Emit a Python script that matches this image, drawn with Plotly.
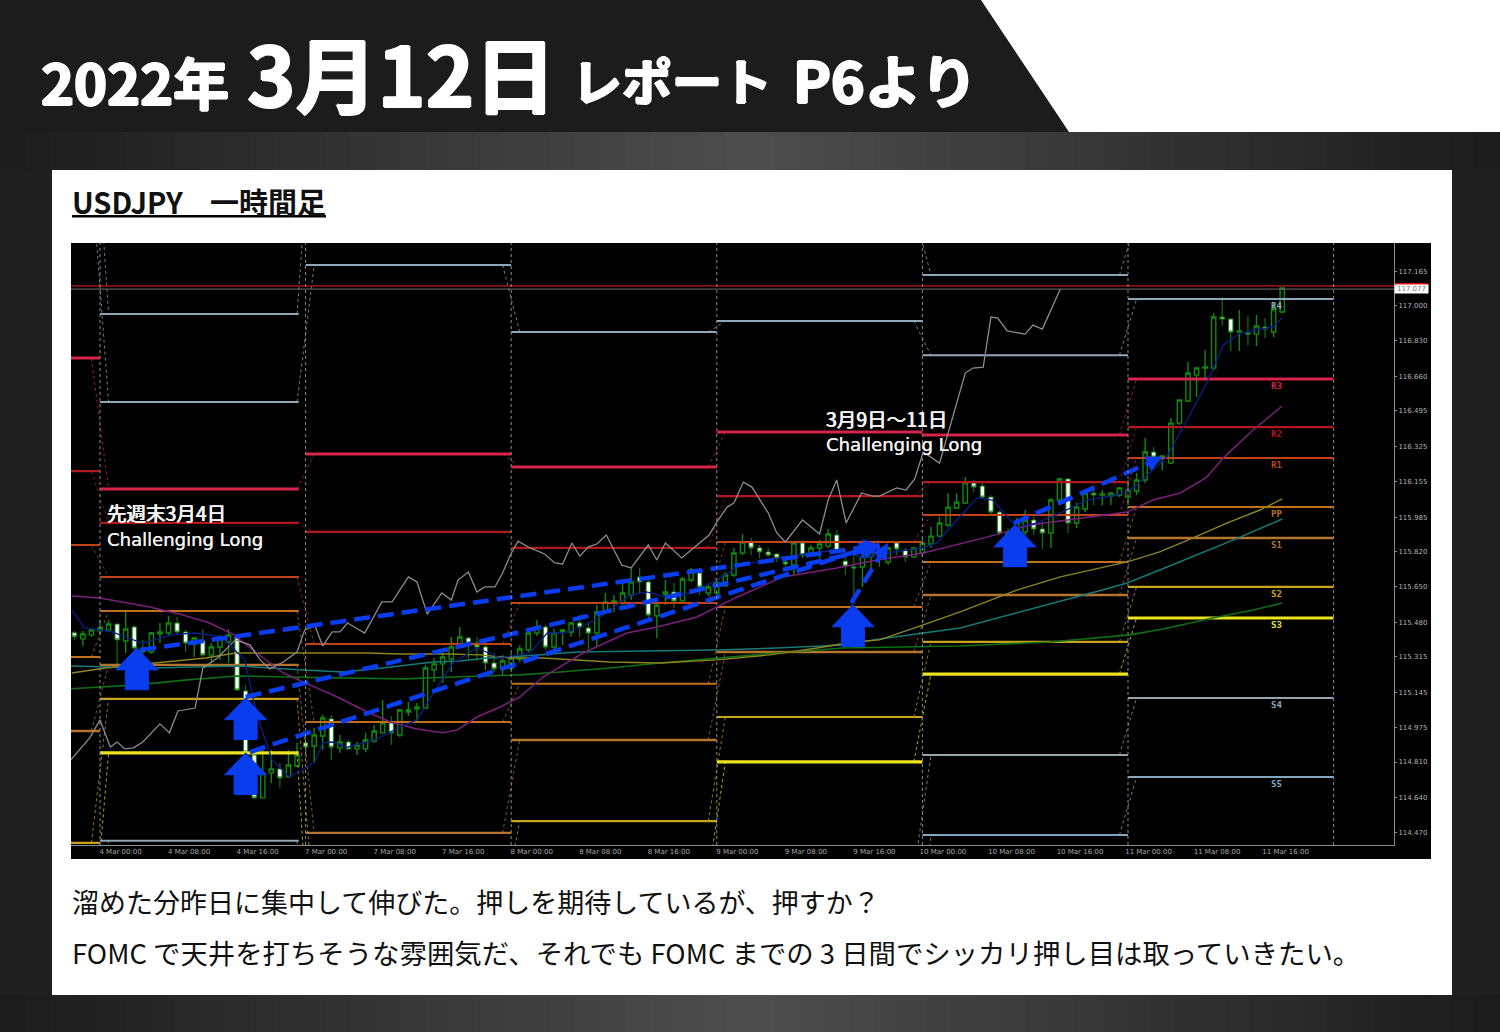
import math
import plotly.graph_objects as go

W, H = 1500, 1032
JP = "Noto Sans CJK JP"

# hourly bars, x is hours since 4 Mar 00:00 (weekend removed)
hours = list(range(-3, 139))
opens = [115.430,115.401,115.420,115.439,115.444,115.472,115.391,115.458,115.357,115.338,
         115.425,115.429,115.477,115.434,115.376,115.391,115.324,115.362,115.386,115.410,
         115.151,114.844,114.638,114.758,114.777,114.739,114.791,114.902,114.887,114.935,
         115.017,114.878,114.906,114.873,114.873,114.911,114.950,114.998,114.940,115.050,
         115.065,115.069,115.252,115.281,115.304,115.362,115.405,115.381,115.362,115.285,
         115.257,115.261,115.304,115.348,115.429,115.458,115.362,115.434,115.434,115.477,
         115.453,115.429,115.530,115.573,115.573,115.611,115.698,115.674,115.511,115.616,
         115.626,115.583,115.683,115.717,115.621,115.621,115.655,115.707,115.813,115.865,
         115.837,115.818,115.808,115.770,115.755,115.861,115.813,115.837,115.846,115.899,
         115.774,115.746,115.746,115.794,115.822,115.770,115.861,115.827,115.794,115.813,
         115.856,115.894,115.947,116.029,116.053,116.149,116.134,116.081,116.009,115.909,
         115.914,115.914,115.971,115.928,115.909,116.067,116.168,115.957,116.024,116.100,
         116.091,116.086,116.091,116.081,116.110,116.163,116.297,116.268,116.244,116.436,
         116.542,116.666,116.700,116.700,116.945,116.935,116.873,116.868,116.863,116.897,
         116.873,116.969]
highs = [115.439,115.439,115.453,115.491,115.491,115.472,115.534,115.467,115.396,115.434,
         115.477,115.511,115.506,115.444,115.410,115.448,115.381,115.420,115.448,115.420,
         115.180,114.868,114.873,114.868,114.806,114.868,114.902,114.950,114.974,115.036,
         115.036,114.940,114.916,114.906,114.950,114.988,115.108,115.031,115.065,115.098,
         115.093,115.276,115.309,115.333,115.410,115.458,115.410,115.410,115.405,115.333,
         115.324,115.333,115.372,115.444,115.491,115.467,115.448,115.448,115.482,115.515,
         115.482,115.563,115.621,115.611,115.683,115.741,115.741,115.683,115.578,115.683,
         115.669,115.698,115.741,115.741,115.659,115.683,115.722,115.837,115.904,115.885,
         115.851,115.837,115.813,115.794,115.865,115.875,115.851,115.875,115.928,115.923,
         115.827,115.813,115.818,115.851,115.851,115.842,115.865,115.837,115.842,115.885,
         115.938,115.986,116.100,116.100,116.177,116.163,116.149,116.091,116.014,115.933,
         115.981,116.019,115.986,115.962,116.077,116.173,116.173,116.053,116.110,116.125,
         116.115,116.105,116.129,116.163,116.197,116.365,116.321,116.283,116.460,116.547,
         116.729,116.700,116.786,116.964,117.041,116.940,116.978,116.950,116.954,116.940,
         117.012,117.084]
lows = [115.396,115.367,115.411,115.425,115.434,115.261,115.333,115.348,115.324,115.329,
        115.381,115.420,115.420,115.338,115.314,115.314,115.285,115.300,115.285,115.151,
        114.844,114.633,114.638,114.710,114.686,114.734,114.791,114.834,114.806,114.868,
        114.820,114.854,114.868,114.844,114.858,114.902,114.950,114.892,114.930,115.031,
        115.002,115.065,115.194,115.189,115.242,115.362,115.300,115.295,115.252,115.242,
        115.228,115.242,115.290,115.338,115.415,115.348,115.348,115.372,115.410,115.410,
        115.348,115.362,115.525,115.530,115.563,115.587,115.621,115.501,115.405,115.563,
        115.549,115.573,115.674,115.611,115.607,115.611,115.650,115.698,115.803,115.803,
        115.789,115.794,115.770,115.746,115.707,115.789,115.794,115.789,115.837,115.818,
        115.707,115.573,115.650,115.731,115.746,115.755,115.803,115.770,115.789,115.794,
        115.837,115.890,115.938,116.024,116.048,116.105,116.077,116.000,115.899,115.875,
        115.875,115.899,115.899,115.832,115.837,116.057,115.909,115.933,116.009,116.043,
        116.043,116.043,116.081,116.043,116.091,116.149,116.211,116.211,116.240,116.427,
        116.537,116.561,116.652,116.690,116.902,116.782,116.782,116.806,116.806,116.844,
        116.849,116.964]
closes = [115.411,115.425,115.444,115.453,115.472,115.396,115.448,115.357,115.338,115.429,
          115.434,115.477,115.434,115.381,115.405,115.324,115.362,115.410,115.420,115.156,
          114.858,114.638,114.758,114.777,114.734,114.796,114.844,114.882,114.940,115.021,
          114.882,114.906,114.873,114.892,114.916,114.959,114.998,114.950,115.060,115.060,
          115.074,115.261,115.281,115.314,115.362,115.410,115.381,115.362,115.285,115.257,
          115.295,115.309,115.352,115.429,115.458,115.362,115.429,115.444,115.477,115.458,
          115.429,115.530,115.578,115.583,115.621,115.674,115.674,115.515,115.563,115.626,
          115.583,115.688,115.731,115.650,115.650,115.669,115.707,115.813,115.865,115.837,
          115.818,115.803,115.789,115.760,115.861,115.803,115.837,115.856,115.904,115.822,
          115.750,115.741,115.794,115.832,115.789,115.837,115.832,115.794,115.837,115.861,
          115.894,115.957,116.033,116.057,116.149,116.129,116.081,116.009,115.909,115.890,
          115.962,115.971,115.928,115.909,116.067,116.168,115.957,116.033,116.100,116.091,
          116.096,116.100,116.125,116.115,116.163,116.297,116.273,116.278,116.436,116.547,
          116.676,116.700,116.705,116.945,116.935,116.873,116.878,116.863,116.902,116.887,
          116.983,117.084]

# Gray momentum-like line
gray_x = [-3.4,-1.2,0,1.2,2,2.9,3.9,5,7,8.1,9.1,11.1,12,13.7,15.8,17.5,18.7,19.8,21.4,23,23.9,25.1,26,27.1,28,28.9,
          30.9,32.9,34.1,36,37,38.2,39.9,41,41.8,43,44,44.9,46.1,47,47.9,48.8,50.2,51.9,53.1,54,55.1,56,57,58,59.1,
          60.9,62,64,65,66,67.9,70,71.1,72,73.2,74,75.1,76.1,78,79,80,82,84,85,86,87.1,88.9,90.2,91,93,94.1,95.1,96.1,
          98,101,101.9,103.1,104,104.8,105.9,108,108.9,110,112.1]
gray_y = [114.820,114.926,115.012,114.882,114.906,114.873,114.878,114.906,114.993,114.950,115.055,115.069,115.261,
          115.309,115.396,115.372,115.300,115.257,115.290,115.338,115.444,115.463,115.367,115.434,115.434,115.477,
          115.429,115.578,115.578,115.698,115.674,115.520,115.621,115.587,115.683,115.722,115.626,115.650,115.650,
          115.717,115.803,115.870,115.837,115.808,115.765,115.760,115.861,115.798,115.842,115.856,115.899,
          115.755,115.741,115.851,115.779,115.861,115.789,115.861,115.899,115.961,116.033,116.053,116.153,116.129,
          116.005,115.909,115.866,115.971,115.904,116.067,116.163,115.957,116.101,116.086,116.086,116.125,116.115,
          116.168,116.297,116.244,116.676,116.700,116.705,116.945,116.940,116.878,116.863,116.906,116.887,117.079]

# moving averages
fast_x = [-3.3,-1.8,1.4,4.9,8.4,11.1,14.2,16.9,18,18.9,20.1,22.1,23.6,25.1,26,27.1,28.9,32.1,35,37,38.9,41.2,44,46.7,
          50.2,52.2,54,56,58.4,61.9,63.8,66.5,68.9,72,75.1,76.2,79.4,82.9,86.4,89.1,91.9,96.1,97.7,100,102.4,104.2,107,
          109.4,112.1,115.2,118.7,120.6,122.9,124.5,126.9,129.2,131.1,133.1,136.9,138]
fast_y = [115.539,115.453,115.434,115.381,115.420,115.429,115.410,115.300,115.093,114.964,114.820,114.739,114.772,
          114.811,114.902,114.906,114.882,114.916,114.978,115.012,115.141,115.285,115.357,115.309,115.333,115.429,
          115.429,115.453,115.506,115.611,115.626,115.597,115.621,115.683,115.765,115.765,115.789,115.813,115.827,
          115.789,115.813,115.837,115.861,115.971,116.077,116.067,115.937,115.957,116.005,116.067,116.091,116.125,
          116.211,116.273,116.451,116.628,116.810,116.868,116.897,116.940]
purple_x = [-3.3,0,5.8,9.7,12.8,15.5,18.3,21.4,24.5,27.7,31.2,33.9,37,40,41.7,44,46.7,49,51.7,56.4,61.5,65,69.7,74.4,
            79.7,86,90.7,96.1,103.5,108.6,119.9,122.9,126.1,129.2,131.1,134.6,138]
purple_y = [115.607,115.597,115.554,115.515,115.477,115.424,115.333,115.237,115.180,115.122,115.050,115.002,114.969,
            114.950,114.964,115.026,115.074,115.122,115.218,115.333,115.429,115.458,115.506,115.602,115.698,115.741,
            115.779,115.813,115.889,115.947,116.009,116.067,116.101,116.177,116.268,116.403,116.518]
olive_x = [-3.3,0.6,6.4,12.3,15.8,20.1,24.7,31.2,35,40.9,44.4,47.9,51.7,59.5,65.4,72,78.2,83.7,87.9,91,96.1,100.4,107,
           112.1,119.9,123.7,127.6,131.6,135.4,138]
olive_y = [115.237,115.261,115.285,115.309,115.333,115.333,115.333,115.333,115.328,115.328,115.324,115.309,115.309,
           115.290,115.285,115.300,115.324,115.357,115.386,115.396,115.468,115.530,115.635,115.698,115.770,115.818,
           115.885,115.957,116.019,116.072]
teal_x = [-3.4,5.8,16,19.8,23.7,28.4,33,38.9,42,45.2,47.9,55.7,63.4,72,79,86.7,91,96.1,100.4,117,119.9,123.7,128,133.1,138]
teal_y = [115.271,115.261,115.271,115.261,115.252,115.242,115.261,115.290,115.295,115.309,115.314,115.338,115.343,
          115.348,115.357,115.372,115.400,115.429,115.453,115.635,115.669,115.731,115.803,115.889,115.976]
green_x = [-3.5,4.3,10.2,16,21.8,27.7,35.4,41.2,49,53.7,59.5,65.4,72,79,86.7,96.1,100.4,110.9,120.2,124.1,129.9,134.6,138]
green_y = [115.161,115.180,115.204,115.223,115.218,115.213,115.209,115.218,115.228,115.242,115.261,115.285,115.309,
           115.333,115.357,115.362,115.367,115.386,115.420,115.448,115.501,115.539,115.573]

# daily pivots: 3, 4, 7, 8, 9, 10, 11 Mar (values past the window are clipped by the axis)
day_start = [-4, 0, 24, 48, 72, 96, 120]
day_end = [0, 23.2, 48, 72, 96, 120, 144]
pivot_names = ["R5", "R4", "R3", "R2", "R1", "PP", "S1", "S2", "S3", "S4", "S5"]
R5 = [118.200, 116.959, 118.100, 117.520, 117.458, 117.146, 117.415]
R4 = [117.640, 116.537, 117.194, 116.873, 116.926, 116.762, 117.031]
R3 = [116.748, 116.120, 116.288, 116.225, 116.393, 116.379, 116.647]
R2 = [116.206, 115.957, 115.914, 115.837, 116.086, 116.153, 116.417]
R1 = [115.851, 115.698, 115.376, 115.573, 115.866, 115.995, 116.268]
PP = [115.314, 115.535, 115.002, 115.185, 115.554, 115.770, 116.033]
S1 = [114.959, 115.276, 114.470, 114.916, 115.338, 115.611, 115.885]
S2 = [114.422, 115.113, 114.096, 114.527, 115.026, 115.386, 115.650]
S3 = [113.885, 114.854, 113.558, 114.259, 114.811, 115.232, 115.501]
S4 = [113.330, 114.432, 113.000, 113.612, 114.278, 114.844, 115.117]
S5 = [112.900, 114.009, 112.500, 112.970, 113.746, 114.460, 114.738]
pivots = [R5, R4, R3, R2, R1, PP, S1, S2, S3, S4, S5]
pivot_colors = ["#8da6b6", "#8fa9b8", "#d8234a", "#b3181c", "#c2421a", "#c0701e", "#b5752c",
                "#c8a41c", "#ece21e", "#93a5b1", "#86a6bd"]
pivot_widths = [2, 2, 3, 2.2, 2, 2, 2.4, 2.2, 3.2, 2, 2]

# hand drawn notes: trend lines and block arrows (hour, price)
trend_x = [[4.7, 91], [17, 91], [17.5, 90.5], [87.7, 92], [106.7, 124]]
trend_y = [[115.348, 115.851], [115.122, 115.842], [114.858, 115.851], [115.573, 115.861], [115.956, 116.273]]
arrow_x = [4.3, 17, 17, 87.9, 106.8]
arrow_y = [115.357, 115.118, 114.854, 115.564, 115.947]

price_ticks = [117.165, 117.000, 116.830, 116.660, 116.495, 116.325, 116.155, 115.985, 115.820,
               115.650, 115.480, 115.315, 115.145, 114.975, 114.810, 114.640, 114.470]
time_ticks = list(range(0, 137, 8))
time_labels = ["4 Mar 00:00", "4 Mar 08:00", "4 Mar 16:00", "7 Mar 00:00", "7 Mar 08:00", "7 Mar 16:00",
               "8 Mar 00:00", "8 Mar 08:00", "8 Mar 16:00", "9 Mar 00:00", "9 Mar 08:00", "9 Mar 16:00",
               "10 Mar 00:00", "10 Mar 08:00", "10 Mar 16:00", "11 Mar 00:00", "11 Mar 08:00", "11 Mar 16:00"]
day_lines = [0, 24, 48, 72, 96, 120, 144]
high_line = 117.094
last_price = 117.079

fig = go.Figure()

# Pivot segments and the dotted steps between days
for name, levels, color, width in zip(pivot_names, pivots, pivot_colors, pivot_widths):
    xs, ys, step_x, step_y = [], [], [], []
    for k in range(len(levels)):
        xs += [day_start[k], day_end[k], None]
        ys += [levels[k], levels[k], None]
        if k > 0:
            step_x += [day_start[k] - 1, day_start[k] + 1, None]
            step_y += [levels[k - 1], levels[k], None]
    fig.add_trace(go.Scatter(x=step_x, y=step_y, mode="lines", line=dict(color=color, width=1, dash="dot"), opacity=0.75))
    fig.add_trace(go.Scatter(x=xs, y=ys, mode="lines", name=name, line=dict(color=color, width=width)))

# Moving averages
fig.add_trace(go.Scatter(x=green_x, y=green_y, mode="lines", line=dict(color="#0e6f14", width=1.6)))
fig.add_trace(go.Scatter(x=teal_x, y=teal_y, mode="lines", line=dict(color="#157a78", width=1.5)))
fig.add_trace(go.Scatter(x=olive_x, y=olive_y, mode="lines", line=dict(color="#8f8420", width=1.4)))
fig.add_trace(go.Scatter(x=purple_x, y=purple_y, mode="lines", line=dict(color="#7c1f7c", width=1.5)))
fig.add_trace(go.Scatter(x=gray_x, y=gray_y, mode="lines", line=dict(color="#8c8c8c", width=1.3)))

fig.add_trace(go.Candlestick(x=hours, open=opens, high=highs, low=lows, close=closes,
                             increasing=dict(line=dict(color="#0e8a0e", width=1.4), fillcolor="#000000"),
                             decreasing=dict(line=dict(color="#0e8a0e", width=1), fillcolor="#ffffff"),
                             whiskerwidth=0))

fig.add_trace(go.Scatter(x=fast_x, y=fast_y, mode="lines", line=dict(color="#0b1f8c", width=1.3)))

# Blue notes on top
for tx, ty in zip(trend_x, trend_y):
    fig.add_trace(go.Scatter(x=tx, y=ty, mode="lines", line=dict(color="#0a3cf0", width=4.5, dash="16px,8px")))
    # short tail so the head lies along the line
    frac = 20 / math.hypot((tx[1] - tx[0]) * 8.567, (ty[1] - ty[0]) * 208.5)
    fig.add_annotation(x=tx[1], y=ty[1], ax=tx[1] - frac * (tx[1] - tx[0]), ay=ty[1] - frac * (ty[1] - ty[0]),
                       xref="x", yref="y", axref="x", ayref="y", text="", showarrow=True,
                       arrowhead=2, arrowsize=0.8, arrowwidth=4, arrowcolor="#0a3cf0")
for ax_, ay_ in zip(arrow_x, arrow_y):
    # block arrow: head 42px wide, 22px tall, shaft 23px wide, 41px in total
    fig.add_trace(go.Scatter(x=[ax_, ax_ + 2.45, ax_ + 1.35, ax_ + 1.35, ax_ - 1.35, ax_ - 1.35, ax_ - 2.45, ax_],
                             y=[ay_, ay_ - 0.105, ay_ - 0.105, ay_ - 0.2, ay_ - 0.2, ay_ - 0.105, ay_ - 0.105, ay_],
                             mode="lines", fill="toself", fillcolor="#0a3cf0", line=dict(color="#0a3cf0", width=1)))

# High and last price lines
fig.add_hline(y=high_line, line=dict(color="#8a1212", width=1.8))
fig.add_hline(y=last_price, line=dict(color="#707070", width=1))

for d in day_lines:
    fig.add_shape(type="line", xref="x", yref="y domain", x0=d, x1=d, y0=0, y1=1,
                  line=dict(color="#8a8a8a", width=1, dash="dot"))

# Pivot tags on the last day
for name, levels, color in zip(pivot_names[1:], pivots[1:], pivot_colors[1:]):
    fig.add_annotation(x=137.3, y=levels[-1], yshift=-7, text=f"<b>{name}</b>", showarrow=False,
                       font=dict(family="DejaVu Sans Mono", size=9, color=color))

# Note text on the chart
notes = [(105, 512.5, "先週末3月4日", JP, 19.5, True), (105, 539, "Challenging Long", "DejaVu Sans", 18, False),
         (824, 418.5, "3月9日～11日", JP, 19.5, True), (824, 444.5, "Challenging Long", "DejaVu Sans", 18, False)]
for nx, ny, txt, family, size, heavy in notes:
    fig.add_annotation(xref="paper", yref="paper", x=nx / W, y=1 - ny / H, xanchor="left", yanchor="middle",
                       text=txt, showarrow=False,
                       font=dict(family=family, size=size, color="#f2f2f2",
                                 shadow="0.4px 0 #f2f2f2, -0.4px 0 #f2f2f2" if heavy else "0.3px 0 #f2f2f2"))

# Current price tag
fig.add_annotation(xref="paper", yref="paper", x=1411 / W, y=1 - 289.5 / H, xanchor="center", yanchor="middle",
                   text="117.077", showarrow=False,
                   font=dict(family="DejaVu Sans", size=7, color="#777777"), bgcolor="#ffffff", borderpad=0, width=33, height=8)

# Page furniture
shapes = [
    dict(type="rect", x0=0, x1=W, y0=132, y1=H, fillcolor="#1f1f1f"),
]
strips = 60
for s in range(strips):
    mid = abs((s + 0.5) / strips - 0.5) * 2
    g = int(78 - 50 * mid)
    c = f"rgb({g},{g},{g})"
    for top, bot in ((132, 170), (995, H)):
        shapes.append(dict(type="rect", x0=s * W / strips, x1=(s + 1) * W / strips + 1, y0=top, y1=bot, fillcolor=c))
shapes += [
    dict(type="rect", x0=52, x1=1452, y0=170, y1=995, fillcolor="#ffffff"),
    dict(type="rect", x0=71, x1=1431, y0=243, y1=859, fillcolor="#000000"),
    dict(type="rect", x0=72, x1=326, y0=215, y1=217.5, fillcolor="#000000"),
    dict(type="rect", x0=1394, x1=1428, y0=283, y1=285.5, fillcolor="#e01010"),
]
for sh in shapes:
    fig.add_shape(type="rect", xref="paper", yref="paper", layer="below", line_width=0,
                  x0=sh["x0"] / W, x1=sh["x1"] / W, y0=1 - sh["y0"] / H, y1=1 - sh["y1"] / H, fillcolor=sh["fillcolor"])
# white corner cut into the header
fig.add_shape(type="path", xref="paper", yref="paper", layer="below", line_width=0, fillcolor="#ffffff",
              path=f"M {981 / W} 1 L 1 1 L 1 {1 - 132 / H} L {1069 / W} {1 - 132 / H} Z")

# Page text
texts = [
    (39, 80, "2022年", 56, True), (245, 71, "3月12日", 82, True),
    (570, 79, "レポート", 50, True), (791, 78, "P6より", 57, True),
    (70, 200.5, "USDJPY", 29, True), (208, 200.5, "一時間足", 29, True),
    (70, 901.5, "溜めた分昨日に集中して伸びた。押しを期待しているが、押すか？", 27, False),
    (70, 951.5, "FOMC で天井を打ちそうな雰囲気だ、それでも FOMC までの 3 日間でシッカリ押し目は取っていきたい。", 27.4, False),
]
for tx, ty, txt, size, bold in texts:
    color = "#ffffff" if ty < 130 else "#111111"
    shadow = "1.2px 0 #fff, -1.2px 0 #fff, 0 1px #fff, 0 -1px #fff" if ty < 130 else "none"
    fig.add_annotation(xref="paper", yref="paper", x=tx / W, y=1 - ty / H, xanchor="left", yanchor="middle",
                       text=f"<b>{txt}</b>" if bold else txt, showarrow=False,
                       font=dict(family=JP, size=size, color=color, shadow=shadow))

fig.update_layout(
    width=W, height=H, margin=dict(l=0, r=0, t=0, b=0), showlegend=False,
    paper_bgcolor="#1c1c1c", plot_bgcolor="#000000", hovermode=False, boxgap=0.5, boxgroupgap=0,
    xaxis=dict(domain=[71 / W, 1394 / W], range=[-3.385, 151.05], rangeslider=dict(visible=False),
               tickmode="array", tickvals=[t + 2.4 for t in time_ticks], ticktext=time_labels,
               showgrid=False, zeroline=False, showline=True, linecolor="#8c8c8c", linewidth=1,
               ticks="", tickfont=dict(family="DejaVu Sans", size=7, color="#a8a8a8")),
    yaxis=dict(domain=[1 - 845 / H, 1 - 243 / H], range=[114.412, 117.300], side="right",
               tickmode="array", tickvals=price_ticks, ticktext=[f"{p:.3f}" for p in price_ticks],
               showgrid=False, zeroline=False, showline=True, linecolor="#8c8c8c", linewidth=1,
               ticks="outside", ticklen=2, tickcolor="#8c8c8c",
               tickfont=dict(family="DejaVu Sans", size=7, color="#b4b4b4")),
)

fig.write_html("out.html", config={"displayModeBar": False}, post_script="document.body.style.margin='0';")
